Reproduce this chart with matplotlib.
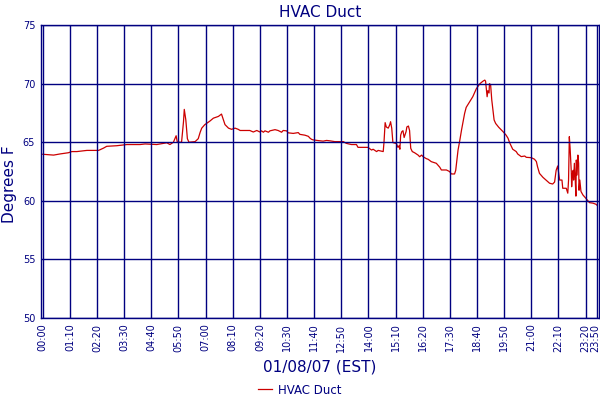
import matplotlib
matplotlib.use("Agg")
import matplotlib.pyplot as plt
from matplotlib.transforms import ScaledTranslation

# time of day in minutes since 00:00, temperature in degrees F
minutes = [0, 28, 45, 66, 75, 88, 114, 131, 144, 157, 165, 191, 217, 251,
           264, 294, 320, 328, 337, 344, 347, 358, 363, 365, 369, 373, 377,
           393, 401, 406, 410, 418, 431, 440, 453, 461, 466, 470, 479, 487,
           496, 504, 509, 534, 543, 552, 560, 564, 569, 573, 582, 586, 599,
           607, 616, 620, 629, 633, 646, 655, 659, 663, 676, 685, 689, 693,
           697, 710, 723, 732, 740, 753, 766, 775, 783, 796, 809, 813, 839,
           843, 848, 852, 861, 865, 878, 880, 883, 886, 891, 895, 897, 900,
           903, 912, 916, 919, 921, 923, 926, 929, 932, 937, 939, 943, 946,
           949, 953, 959, 968, 972, 977, 981, 989, 994, 1002, 1015, 1024,
           1028, 1041, 1049, 1054, 1062, 1065, 1068, 1071, 1075, 1080, 1084,
           1088, 1092, 1101, 1109, 1118, 1127, 1135, 1140, 1142, 1146, 1148,
           1151, 1152, 1155, 1158, 1161, 1164, 1168, 1176, 1187, 1195, 1200,
           1204, 1208, 1212, 1221, 1225, 1234, 1243, 1247, 1260, 1268, 1273,
           1276, 1281, 1290, 1298, 1307, 1315, 1320, 1324, 1328, 1333, 1339,
           1341, 1350, 1354, 1356, 1358, 1360, 1363, 1364, 1366, 1368, 1369,
           1371, 1373, 1375, 1376, 1378, 1380, 1382, 1383, 1385, 1388, 1393,
           1401, 1410, 1419, 1427, 1430]
temps = [63.97, 63.9, 64.0, 64.1, 64.2, 64.2, 64.3, 64.3, 64.3, 64.5, 64.65,
         64.7, 64.8, 64.8, 64.85, 64.8, 64.95, 64.8, 65.0, 65.55, 65.0, 65.0,
         66.75, 67.8, 66.9, 65.3, 65.0, 65.05, 65.3, 65.85, 66.2, 66.5, 66.8,
         67.05, 67.2, 67.4, 66.9, 66.5, 66.2, 66.1, 66.2, 66.1, 66.0, 66.0,
         65.87, 66.0, 65.87, 65.97, 65.85, 65.97, 65.85, 65.97, 66.07, 66.0,
         65.85, 66.0, 65.97, 65.8, 65.75, 65.8, 65.82, 65.67, 65.6, 65.5,
         65.35, 65.25, 65.2, 65.14, 65.09, 65.15, 65.12, 65.05, 65.05, 65.05,
         64.9, 64.8, 64.8, 64.56, 64.56, 64.45, 64.33, 64.4, 64.2, 64.3, 64.2,
         64.97, 66.67, 66.3, 66.2, 66.5, 66.75, 66.2, 64.97, 64.88, 64.56,
         64.7, 64.4, 65.6, 65.9, 65.98, 65.4, 65.9, 66.3, 66.38, 66.0, 64.48,
         64.2, 64.1, 63.9, 63.76, 63.9, 63.76, 63.6, 63.54, 63.34, 63.2, 62.86,
         62.63, 62.63, 62.5, 62.29, 62.29, 62.6, 63.48, 64.33, 65.05, 66.04,
         66.75, 67.46, 67.97, 68.46, 68.88, 69.55, 69.98, 70.2, 70.3, 70.2,
         68.88, 69.4, 69.2, 70.0, 69.9, 68.6, 67.75, 66.9, 66.6, 66.27, 65.9,
         65.6, 65.33, 64.96, 64.68, 64.4, 64.2, 63.99, 63.77, 63.82, 63.71,
         63.68, 63.55, 63.35, 62.91, 62.34, 62.0, 61.77, 61.5, 61.43, 61.6,
         62.6, 62.97, 61.77, 61.77, 61.07, 61.07, 60.65, 61.77, 65.47, 64.48,
         62.5, 61.2, 62.3, 62.6, 61.77, 63.2, 62.0, 60.4, 63.48, 62.2, 63.9,
         63.2, 60.9, 61.77, 60.8, 60.5, 60.2, 59.84, 59.8, 59.7, 59.6]

tick_minutes = [0, 70, 140, 210, 280, 350, 420, 490, 560, 630, 700, 770,
                840, 910, 980, 1050, 1120, 1190, 1260, 1330, 1400, 1430]
tick_labels = ["00:00", "01:10", "02:20", "03:30", "04:40", "05:50", "07:00",
               "08:10", "09:20", "10:30", "11:40", "12:50", "14:00", "15:10",
               "16:20", "17:30", "18:40", "19:50", "21:00", "22:10", "23:20",
               "23:50"]
y_ticks = [50, 55, 60, 65, 70, 75]

navy = "#000080"
red = "#CC0000"

fig = plt.figure(figsize=(6, 4), dpi=100)
ax = fig.add_axes([0.068, 0.205, 0.93, 0.7325])
ax.plot(minutes, temps, color=red, lw=0.9, label="HVAC Duct", zorder=2)
ax.set_xlim(-5, 1434)
ax.set_ylim(50, 75)
ax.set_xticks(tick_minutes)
ax.set_xticklabels(tick_labels, rotation=90)
ax.set_yticks(y_ticks)
ax.set_axisbelow(False)
ax.grid(True, color=navy, lw=1.0)
ax.tick_params(axis="both", length=0, labelsize=7, labelcolor=navy, pad=4)
for s in ax.spines.values():
    s.set_color(navy)
    s.set_linewidth(1.0)
last = ax.get_xticklabels()[-1]
last.set_transform(last.get_transform()
                   + ScaledTranslation(-2 / 100, 0, fig.dpi_scale_trans))
ax.set_title("HVAC Duct", color=navy, fontsize=11, pad=6)
ax.set_xlabel("01/08/07 (EST)", color=navy, fontsize=11, labelpad=6)
fig.text(10 / 600, 1 - 184 / 400, "Degrees F", color=navy, fontsize=11,
         rotation=90, ha="center", va="center")
fig.legend(loc="center", bbox_to_anchor=(0.5, 1 - 390 / 400), frameon=False,
           fontsize=8.5, labelcolor=navy, handlelength=1.2, handletextpad=0.5)
fig.savefig("out.png", dpi=100)
